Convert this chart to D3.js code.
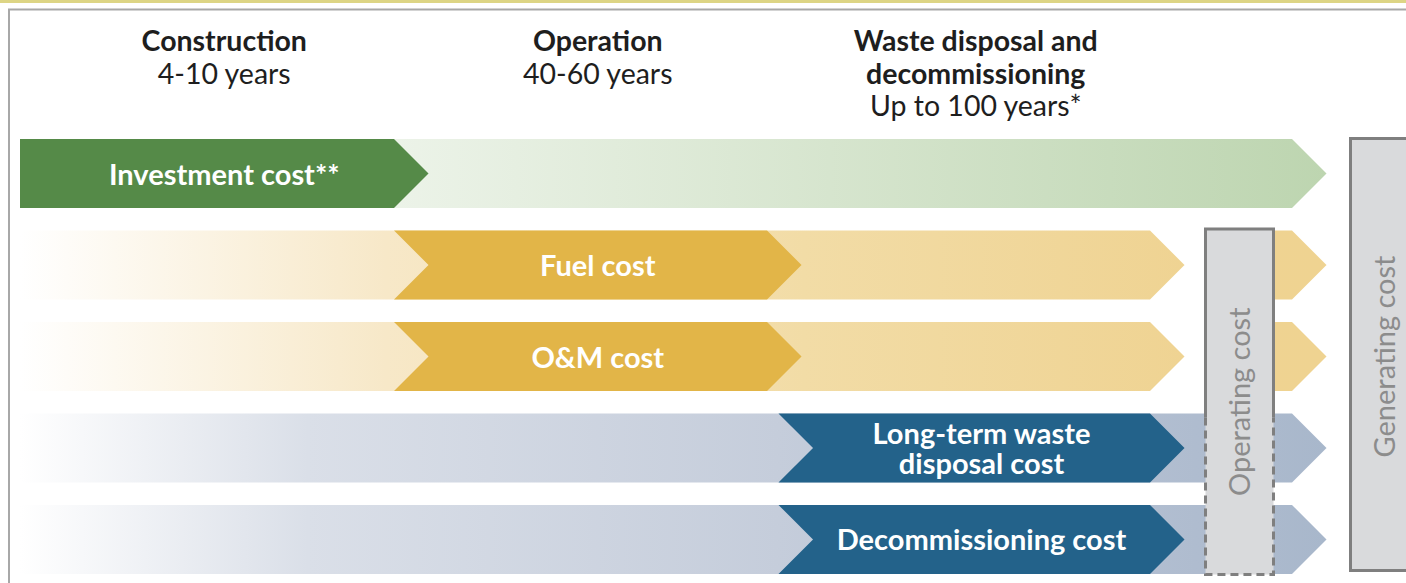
<!DOCTYPE html>
<html>
<head>
<meta charset="utf-8">
<script src="https://cdn.jsdelivr.net/npm/d3@7"></script>
<style>
  html, body { margin: 0; padding: 0; background: #fff; }
  svg { display: block; font-family: Lato, "Open Sans", sans-serif; }
</style>
</head>
<body>
<script>
// phases of a plant's life (header), "|" splits lines
const phases = ["Construction", "Operation", "Waste disposal and|decommissioning"];
const phaseDurations = ["4-10 years", "40-60 years", "Up to 100 years*"];

// cost streams, one arrow each
const costs = ["Investment cost**", "Fuel cost", "O&M cost", "Long-term waste|disposal cost", "Decommissioning cost"];
const costGroups = ["investment", "fuel", "fuel", "backend", "backend"];
// span (in phases) of the dark part of each arrow
const costStart = [0, 1, 1, 2.03, 2.03];
const costEnd = [1, 2, 2, 3, 3];
// light tail stops at the operating cost box (true) or runs through it (false)
const breaksAtBox = [false, true, true, false, false];
const inOperating = [false, true, true, true, true];
const dashedInBox = [false, false, false, true, true];

const totals = ["Operating cost", "Generating cost"];

const width = 1406, height = 583;

const darkColor = { investment: "#558a48", fuel: "#e2b548", backend: "#23628a" };
const lightStops = {
    investment: [[0, "#ffffff"], [1, "#bdd5b0"]],
    fuel: [[0, "#ffffff"], [0.28, "#f7e8c8"], [0.6, "#f2dca6"], [0.9, "#efd392"], [1, "#efd391"]],
    backend: [[0, "#ffffff"], [0.22, "#dadfe8"], [0.58, "#c5cddb"], [0.9, "#afbccf"], [1, "#a8b7cb"]]
};

// phase boundaries -> pixels; 4 = end of the arrows
const x = d3.scaleLinear()
    .domain([0, 1, 2, 3, 4])
    .range([20, 394, 767, 1150, 1292]);

const y = d3.scaleBand()
    .domain(costs)
    .range([139, 574])
    .paddingInner(0.245);

const bw = y.bandwidth(),
    tip = bw / 2;

const opBox = { x0: 1204, x1: 1275 };
const genX = 1349;

const svg = d3.select('body').append('svg')
    .attr('width', width)
    .attr('height', height);

const defs = svg.append('defs');
Object.keys(lightStops).forEach(k => {
    const g = defs.append('linearGradient')
        .attr('id', 'grad-' + k)
        .attr('gradientUnits', 'userSpaceOnUse')
        .attr('x1', x(0)).attr('x2', x(4) + tip)
        .attr('y1', 0).attr('y2', 0);
    g.selectAll('stop').data(lightStops[k]).join('stop')
        .attr('offset', d => d[0])
        .attr('stop-color', d => d[1]);
});

// frame at the top
svg.append('rect')
    .attr('x', 0).attr('y', 0).attr('width', width).attr('height', 3)
    .style('fill', '#ddd585');
svg.append('path')
    .attr('d', `M9,${height} V9.5 H${width}`)
    .style('fill', 'none')
    .style('stroke', '#a8a8a8')
    .style('stroke-width', 2);

const chevron = (x0, x1, y0, notch) => {
    const p = d3.path();
    p.moveTo(x0, y0);
    p.lineTo(x1, y0);
    p.lineTo(x1 + tip, y0 + tip);
    p.lineTo(x1, y0 + bw);
    p.lineTo(x0, y0 + bw);
    if (notch) p.lineTo(x0 + tip, y0 + tip);
    p.closePath();
    return p.toString();
};

const rows = costs.map((c, i) => ({
    name: c, group: costGroups[i], start: costStart[i], end: costEnd[i],
    breaks: breaksAtBox[i], inOp: inOperating[i], dashed: dashedInBox[i]
}));

const row = svg.selectAll('g.row')
    .data(rows)
    .join('g').attr('class', 'row');

// light tail arrows
row.append('path')
    .attr('d', d => d.breaks ? chevron(x(0), x(3), y(d.name), false) : chevron(x(0), x(4), y(d.name), false))
    .style('fill', d => `url(#grad-${d.group})`);
row.filter(d => d.breaks).append('path')
    .attr('d', d => chevron((opBox.x0 + opBox.x1) / 2, x(4), y(d.name), false))
    .style('fill', d => `url(#grad-${d.group})`);

// dark arrow for the phase where the cost arises
row.append('path')
    .attr('d', d => chevron(x(d.start), x(d.end), y(d.name), d.start > 0))
    .style('fill', d => darkColor[d.group]);

row.append('text')
    .attr('x', d => (x(d.start) + x(d.end) + tip) / 2)
    .attr('y', d => y(d.name) + tip)
    .attr('text-anchor', 'middle')
    .style('fill', '#fff')
    .style('font-weight', 700)
    .style('font-size', '29px')
    .each(function(d) {
        const lines = d.name.split('|');
        d3.select(this).selectAll('tspan').data(lines).join('tspan')
            .attr('x', (x(d.start) + x(d.end) + tip) / 2)
            .attr('dy', (l, j) => j === 0 ? (0.38 - (lines.length - 1) * 0.52) + 'em' : '1.04em')
            .text(l => l);
    });

// header
const header = svg.selectAll('g.phase')
    .data(phases)
    .join('g').attr('class', 'phase');

header.append('text')
    .attr('text-anchor', 'middle')
    .style('fill', '#1e1e1e')
    .style('font-size', '28.5px')
    .each(function(p, i) {
        const cx = (x(i) + x(i + 1) + tip) / 2;
        const lines = p.split('|').map(t => ({ t, bold: true })).concat([{ t: phaseDurations[i], bold: false }]);
        d3.select(this).selectAll('tspan').data(lines).join('tspan')
            .attr('x', cx)
            .attr('y', (l, j) => 51 + j * 32.5)
            .style('font-weight', l => l.bold ? 700 : 400)
            .text(l => l.t);
    });

// total boxes
const opRows = rows.filter(d => d.inOp);
const opTop = y(opRows[0].name) - 1.5,
    opBottom = y(opRows[opRows.length - 1].name) + bw + 0.5,
    opSplit = y(rows.find(d => d.dashed).name) + 4;

svg.append('rect')
    .attr('x', opBox.x0 + 1.5).attr('y', opTop)
    .attr('width', opBox.x1 - opBox.x0 - 3).attr('height', opBottom - opTop)
    .style('fill', '#d9dadc');
svg.append('path')
    .attr('d', `M${opBox.x0 + 1.5},${opSplit} V${opTop} H${opBox.x1 - 1.5} V${opSplit}`)
    .style('fill', 'none').style('stroke', '#7f7f7f').style('stroke-width', 3);
svg.append('path')
    .attr('d', `M${opBox.x0 + 1.5},${opSplit} V${opBottom} H${opBox.x1 - 1.5} V${opSplit}`)
    .style('fill', 'none').style('stroke', '#7f7f7f').style('stroke-width', 3)
    .style('stroke-dasharray', '8,5');

const genTop = y(costs[0]) - 0.5,
    genBottom = y(costs[costs.length - 1]) + bw - 3.5;
svg.append('rect')
    .attr('x', genX + 1.5).attr('y', genTop)
    .attr('width', 120).attr('height', genBottom - genTop)
    .style('fill', '#d9dadc')
    .style('stroke', '#7f7f7f').style('stroke-width', 3);

const totalPos = [
    { cx: (opBox.x0 + opBox.x1) / 2, cy: (opTop + opBottom) / 2 },
    { cx: genX + 36, cy: (genTop + genBottom) / 2 + 2 }
];
svg.selectAll('text.total')
    .data(totals)
    .join('text').attr('class', 'total')
    .attr('transform', (t, i) => `translate(${totalPos[i].cx},${totalPos[i].cy}) rotate(-90)`)
    .attr('text-anchor', 'middle')
    .attr('dy', '0.35em')
    .style('fill', '#8c8c8c')
    .style('font-size', '29px')
    .text(t => t);
</script>
</body>
</html>
